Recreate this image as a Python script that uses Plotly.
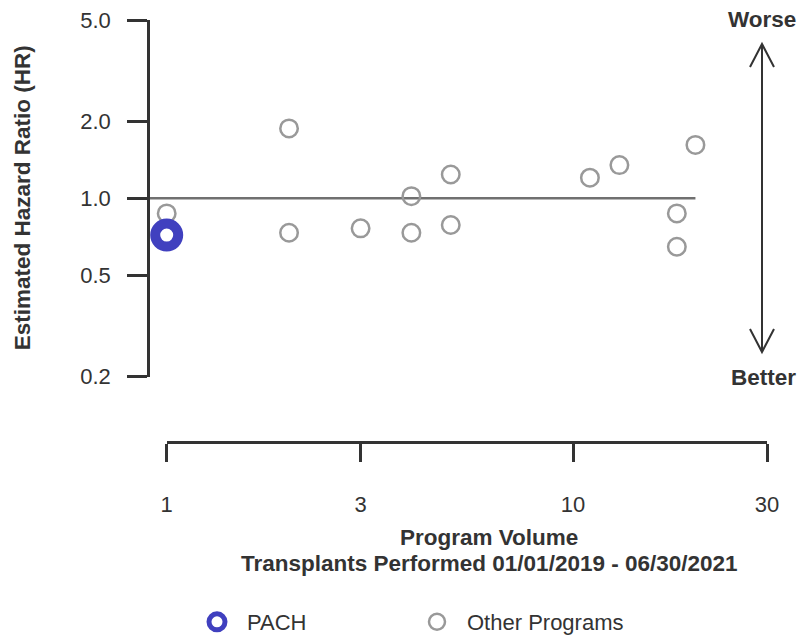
import math
import plotly.graph_objects as go

# ---- data ----
program_volume = [1, 1, 2, 2, 3, 4, 4, 5, 5, 11, 13, 18, 18, 20]
hazard_ratio = [0.873, 0.718, 1.88, 0.733, 0.763, 1.02, 0.733, 1.24, 0.786, 1.205, 1.35, 0.873, 0.646, 1.62]
pach_volume = [1]
pach_hr = [0.718]
y_ticks = [0.2, 0.5, 1.0, 2.0, 5.0]
y_tick_labels = ["0.2", "0.5", "1.0", "2.0", "5.0"]
x_ticks = [1, 3, 10, 30]
x_tick_labels = ["1", "3", "10", "30"]
reference_hr = 1.0

W, H = 806, 636
PAGE_OFFSET = 8  # default body margin of the html page
FONT = "Liberation Sans, Arial, Helvetica, sans-serif"
DARK = "#333333"
BOLD = 22.5
TICK = 22


def px(x):
    return (x - PAGE_OFFSET) / W


def py(y):
    return 1 - (y - PAGE_OFFSET) / H


# geometry (page pixels)
plot_left, plot_right = 150, 780
plot_top, plot_bottom = 20, 376.7
axis_x_left, axis_x_right = 166.7, 767
axis_x_y = 441
px_per_decade = (axis_x_right - axis_x_left) / math.log10(x_ticks[-1] / x_ticks[0])
x_range = [math.log10(x_ticks[0]) + (plot_left - axis_x_left) / px_per_decade,
           math.log10(x_ticks[0]) + (plot_right - axis_x_left) / px_per_decade]
eps = 1e-6

fig = go.Figure()

# reference line at HR = 1 from axis to max volume
fig.add_trace(go.Scatter(
    x=[10 ** x_range[0], max(program_volume)], y=[reference_hr, reference_hr],
    mode="lines", line=dict(color="#707070", width=2.5),
    showlegend=False, hoverinfo="skip", cliponaxis=False))

fig.add_trace(go.Scatter(
    x=program_volume, y=hazard_ratio, mode="markers", name="Other Programs",
    marker=dict(symbol="circle", size=17.5, color="rgba(0,0,0,0)",
                line=dict(color="#999999", width=2.5)),
    cliponaxis=False))

fig.add_trace(go.Scatter(
    x=pach_volume, y=pach_hr, mode="markers", name="PACH",
    marker=dict(symbol="circle", size=23, color="rgba(0,0,0,0)",
                line=dict(color="#4040BF", width=10)),
    cliponaxis=False))

# dummy trace for the detached x axis
fig.add_trace(go.Scatter(x=[], y=[], xaxis="x2", yaxis="y2", showlegend=False))

fig.update_layout(
    width=W, height=H,
    margin=dict(l=0, r=0, t=0, b=0, autoexpand=False),
    paper_bgcolor="white", plot_bgcolor="white",
    font=dict(family=FONT, size=TICK, color=DARK),
    xaxis=dict(type="log", domain=[px(plot_left), px(plot_right)], range=x_range,
               showline=False, showgrid=False, zeroline=False, ticks="",
               showticklabels=False, anchor="y", automargin=False),
    yaxis=dict(type="log", domain=[py(plot_bottom), py(plot_top)],
               range=[math.log10(y_ticks[0]) - eps, math.log10(y_ticks[-1]) + eps],
               tickvals=y_ticks, ticktext=y_tick_labels,
               showline=True, linecolor=DARK, linewidth=2.5,
               ticks="outside", ticklen=20, tickwidth=2.5, tickcolor=DARK,
               ticklabelstandoff=12, ticklabeloverflow="allow",
               showgrid=False, zeroline=False,
               tickfont=dict(size=TICK, color=DARK), anchor="x", automargin=False),
    xaxis2=dict(type="log", domain=[px(axis_x_left), px(axis_x_right)],
                range=[math.log10(x_ticks[0]) - eps, math.log10(x_ticks[-1]) + eps],
                tickvals=x_ticks, ticktext=x_tick_labels,
                showline=True, linecolor=DARK, linewidth=2.5,
                ticks="outside", ticklen=18, tickwidth=2.5, tickcolor=DARK,
                ticklabelstandoff=24, ticklabeloverflow="allow",
                showgrid=False, zeroline=False,
                tickfont=dict(size=TICK, color=DARK), anchor="y2", side="bottom",
                automargin=False),
    yaxis2=dict(domain=[py(axis_x_y), py(axis_x_y - 10)], visible=False, range=[0, 1],
                anchor="x2", automargin=False),
    showlegend=True,
    legend=dict(orientation="h", x=px(187), xanchor="left", y=py(622), yanchor="middle",
                entrywidth=155, entrywidthmode="pixels", itemwidth=50,
                traceorder="reversed", font=dict(size=22, color=DARK),
                bgcolor="rgba(0,0,0,0)"),
    annotations=[
        dict(text="<b>Estimated Hazard Ratio (HR)</b>", x=px(22), y=py(198.3),
             xref="paper", yref="paper", textangle=-90, showarrow=False,
             font=dict(size=BOLD, color=DARK), xanchor="center", yanchor="middle"),
        dict(text="<b>Program Volume</b>", x=px(489), y=py(537),
             xref="paper", yref="paper", showarrow=False,
             font=dict(size=BOLD, color=DARK), xanchor="center", yanchor="middle"),
        dict(text="<b>Transplants Performed 01/01/2019 - 06/30/2021</b>", x=px(489), y=py(563),
             xref="paper", yref="paper", showarrow=False,
             font=dict(size=BOLD, color=DARK), xanchor="center", yanchor="middle"),
        dict(text="<b>Worse</b>", x=px(762), y=py(20),
             xref="paper", yref="paper", showarrow=False,
             font=dict(size=BOLD, color=DARK), xanchor="center", yanchor="middle"),
        dict(text="<b>Better</b>", x=px(763), y=py(377),
             xref="paper", yref="paper", showarrow=False,
             font=dict(size=BOLD, color=DARK), xanchor="center", yanchor="middle"),
    ],
    shapes=[
        dict(type="line", xref="paper", yref="paper", x0=px(762), x1=px(762),
             y0=py(44), y1=py(352), line=dict(color=DARK, width=2)),
        dict(type="path", xref="paper", yref="paper",
             path=f"M {px(750)} {py(67)} L {px(762)} {py(44)} L {px(774)} {py(67)}",
             line=dict(color=DARK, width=2)),
        dict(type="path", xref="paper", yref="paper",
             path=f"M {px(750)} {py(329)} L {px(762)} {py(352)} L {px(774)} {py(329)}",
             line=dict(color=DARK, width=2)),
    ],
)

fig.write_html("out.html")
